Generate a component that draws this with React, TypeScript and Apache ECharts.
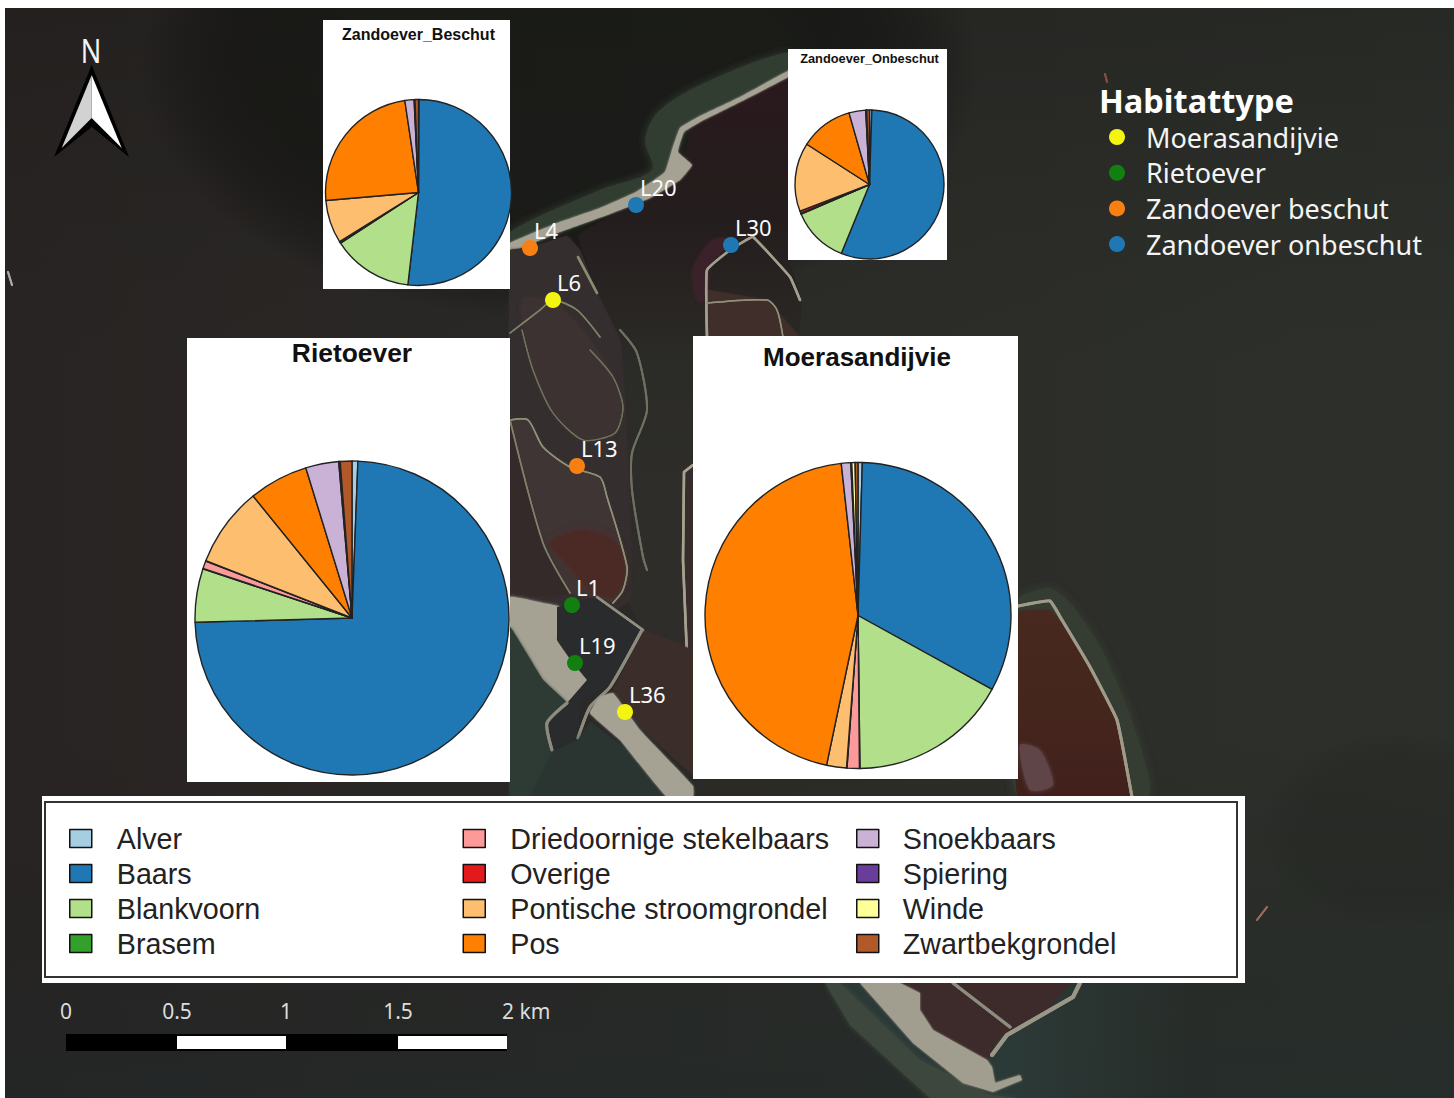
import React, { useEffect, useRef } from "react";
import * as echarts from "echarts";

const species = ["Alver", "Baars", "Blankvoorn", "Brasem", "Driedoornige stekelbaars", "Overige", "Pontische stroomgrondel", "Pos", "Snoekbaars", "Spiering", "Winde", "Zwartbekgrondel"];
const speciesColors = ["#a6cee3", "#1f78b4", "#b2df8a", "#33a02c", "#fb9a99", "#e31a1c", "#fdbf6f", "#ff7f00", "#cab2d6", "#6a3d9a", "#ffff99", "#b15928"];

const beschutValues = [0.1, 51.7, 14, 0.1, 0.1, 0.1, 7.5, 24, 1.6, 0.1, 0.05, 0.6];
const onbeschutValues = [0.5, 55.3, 12.2, 0.1, 0.1, 0.5, 14.8, 11.4, 3.6, 0.1, 0.1, 0.6];
const rietoeverValues = [0.6, 74, 5.5, 0.05, 0.8, 0.05, 8.2, 6.1, 3.4, 0.1, 0.05, 1.2];
const moerasValues = [0.45, 32.6, 16.8, 0.05, 1.3, 0.05, 2.1, 45, 1, 0.1, 0.35, 0.3];

const habitats = ["Moerasandijvie", "Rietoever", "Zandoever beschut", "Zandoever onbeschut"];
const habitatColors = ["#f4f412", "#118011", "#f88012", "#1f78b4"];
const moerasSites = [["L6", 553, 300], ["L36", 625, 712]];
const rietSites = [["L1", 572, 605], ["L19", 575, 663]];
const beschutSites = [["L4", 530, 248], ["L13", 577, 466]];
const onbeschutSites = [["L20", 636, 205], ["L30", 731, 245]];
const habitatSites = [moerasSites, rietSites, beschutSites, onbeschutSites];

const scaleLabels = ["0", "0.5", "1", "1.5", "2 km"];

type Pts = number[][];
const poly = (points: Pts, fill: any, smooth = 0.25, blur = 4) => ({
  type: "polygon", silent: true, shape: { points, smooth },
  style: typeof fill === "string" && blur > 0 ? { fill, shadowBlur: blur, shadowColor: fill } : { fill },
});
const line = (points: Pts, stroke: string, lineWidth = 1.5, smooth = 0.25) => ({
  type: "polyline", silent: true, shape: { points, smooth },
  style: { stroke, lineWidth, fill: null, lineCap: "round", lineJoin: "round", shadowBlur: 1.5, shadowColor: stroke },
});
const box = (x: number, y: number, width: number, height: number, fill: any = "#fff", extra: any = {}) => ({
  type: "rect", silent: true, shape: { x, y, width, height }, style: { fill, ...extra },
});
const linear = (x0: number, y0: number, x1: number, y1: number, stops: string[]) =>
  new echarts.graphic.LinearGradient(x0, y0, x1, y1, stops.map((color, i) => ({ offset: i / (stops.length - 1), color })));
const radial = (color: string) =>
  new echarts.graphic.RadialGradient(0.5, 0.5, 0.5, [
    { offset: 0, color },
    { offset: 0.55, color },
    { offset: 1, color: "rgba(0,0,0,0)" },
  ]);

const SAND = "#a5a294";

const mapElements: any[] = [
  box(5, 8, 1449, 1090, linear(0, 0, 1, 0, ["#282423", "#2a2826", "#2c2d29", "#2c302b"])),
  box(5, 8, 1449, 1090, linear(0, 0, 0, 1, ["rgba(20,20,18,0.25)", "rgba(30,30,28,0)", "rgba(30,30,28,0)", "rgba(28,42,42,0.4)"])),
  // dark North Sea above the spit
  { type: "ellipse", silent: true, shape: { cx: 560, cy: 70, rx: 420, ry: 250 }, style: { fill: radial("rgba(24,26,22,0.85)") } },
  { type: "ellipse", silent: true, shape: { cx: 1400, cy: 830, rx: 140, ry: 100 }, style: { fill: radial("rgba(26,26,24,0.18)") } },
  // halo of shallows along the spit
  poly([[790, 52], [700, 85], [658, 112], [645, 140], [652, 170], [600, 190], [510, 232], [510, 250], [600, 212], [670, 178], [685, 130], [790, 75]], "#333c31", 0.3, 8),
  // bay and channel
  poly([[693, 120], [790, 76], [790, 262], [802, 300], [798, 340], [693, 340], [693, 650], [643, 630], [628, 600], [627, 540], [620, 420], [600, 335], [597, 290], [578, 235], [640, 200], [680, 175]], linear(0, 0, 0, 1, ["#2a191c", "#241d1d", "#2b2b27", "#2e2d29", "#2e2d2a"]), 0.05, 0),
  // spit sand
  poly([[510, 243], [560, 222], [600, 208], [636, 192], [665, 172], [672, 150], [680, 128], [700, 116], [740, 97], [790, 70], [790, 76], [740, 102], [700, 122], [684, 132], [678, 152], [692, 165], [680, 180], [650, 198], [610, 214], [560, 232], [510, 252]], SAND, 0.1, 2),
  // western land
  poly([[510, 250], [530, 248], [567, 236], [580, 250], [597, 293], [620, 340], [625, 400], [632, 560], [630, 600], [600, 620], [510, 600]], "#362d2f", 0.05, 2),
  // marsh lobes
  poly([[522, 300], [553, 302], [590, 340], [613, 377], [623, 407], [615, 433], [583, 440], [553, 413], [533, 370]], "#3e3230"),
  poly([[510, 420], [528, 420], [543, 447], [570, 467], [600, 477], [607, 497], [627, 567], [623, 590], [613, 603], [597, 597], [570, 593], [543, 543]], "#403436", 0.1),
  poly([[550, 543], [583, 530], [617, 543], [625, 577], [613, 597], [593, 593], [570, 567]], "#4b2c27", 0.25, 8),
  poly([[510, 425], [543, 543], [570, 593], [550, 597], [510, 593]], "#36292a", 0, 2),
  // roads and dikes
  line([[510, 333], [540, 310], [553, 300], [577, 310], [600, 337]], "#7f8168"),
  line([[522, 330], [533, 370], [553, 413], [583, 440], [615, 433], [623, 407], [613, 377], [590, 350]], "#70715c", 1.2),
  line([[510, 420], [528, 420], [543, 447], [570, 467], [600, 477], [607, 497], [627, 567], [623, 590], [613, 603]], "#8f9078", 1.5),
  line([[510, 420], [543, 543], [570, 593]], "#7f8168", 1.5),
  line([[578, 257], [597, 293]], "#8a8a70", 2.5),
  line([[620, 330], [637, 353], [647, 410], [632, 453], [632, 490], [643, 557], [647, 570]], "#6f6f62", 2),
  // eastern peninsula
  poly([[693, 465], [683, 470], [683, 650], [693, 770]], "#352c2b", 0, 0),
  line([[693, 465], [684, 472], [683, 560], [688, 680], [693, 735]], "#a5a28f", 2.5, 0),
  poly([[613, 690], [643, 630], [693, 650], [693, 775], [640, 727]], "#3b2e2c", 0, 2),
  // harbour and sand
  poly([[510, 597], [543, 603], [560, 607], [557, 640], [573, 663], [587, 680], [567, 703], [543, 680], [510, 627]], SAND, 0.1, 3),
  poly([[510, 627], [543, 680], [567, 703], [552, 742], [552, 797], [510, 797]], "#2f3b34", 0.05, 3),
  poly([[557, 607], [597, 597], [643, 630], [620, 677], [580, 703], [578, 738], [552, 750], [547, 723], [567, 703], [587, 680], [573, 663], [557, 640]], "#2a2b2d", 0, 0),
  line([[597, 597], [643, 630]], "#8f9080", 2.5, 0),
  line([[567, 703], [547, 723], [552, 750]], "#8c8b7d", 3, 0.2),
  line([[642, 630], [610, 687], [590, 707], [578, 738]], "#8c8b7d", 3, 0.2),
  poly([[578, 740], [590, 722], [640, 760], [693, 797], [530, 797], [552, 752]], "#2a3633", 0, 3),
  poly([[590, 713], [600, 697], [613, 693], [640, 730], [693, 786], [693, 797], [667, 797], [620, 740]], SAND, 0.1, 2),
  // L30 peninsula
  poly([[693, 270], [713, 240], [735, 240], [712, 262], [706, 300], [697, 300]], "#3a2429"),
  poly([[708, 290], [767, 300], [800, 337], [707, 337]], "#402d2a", 0, 2),
  line([[707, 337], [707, 270], [730, 250], [743, 242], [753, 237], [790, 277], [800, 300]], "#a29f8e", 2.5, 0.1),
  line([[707, 303], [767, 300], [777, 310], [783, 337]], "#8e8e7a", 1.5),
  // south-east basin
  poly([[1018, 600], [1050, 588], [1072, 605], [1102, 650], [1132, 720], [1148, 797], [1018, 797]], "#353c31", 0.2, 10),
  poly([[1018, 612], [1050, 610], [1062, 623], [1090, 667], [1117, 720], [1132, 797], [1018, 797]], linear(0, 0, 0, 1, ["#48291f", "#45261c", "#41201c"]), 0.1, 0),
  poly([[1020, 745], [1040, 750], [1053, 785], [1030, 790]], "#5e4447"),
  line([[1018, 606], [1050, 601], [1062, 620], [1090, 667], [1117, 720], [1132, 797]], "#a09a89", 3, 0.1),
  // southern tip, below the legend
  poly([[830, 983], [1190, 983], [1180, 1098], [930, 1098], [850, 1020]], linear(0, 0, 1, 0, ["#2c3a37", "#2c3a37", "rgba(44,58,55,0)"]), 0, 0),
  poly([[840, 983], [920, 1060], [990, 1095], [1020, 1098], [930, 1098], [850, 1025], [825, 983]], "#3c473e", 0, 5),
  poly([[893, 983], [1070, 983], [1047, 1010], [1000, 1037], [987, 1060], [933, 1030], [920, 1010], [920, 993]], "#3e2a2c", 0, 2),
  poly([[860, 983], [900, 983], [920, 993], [920, 1010], [933, 1030], [987, 1060], [992, 1067], [995, 1083], [1020, 1075], [1022, 1080], [993, 1092], [963, 1083], [913, 1043]], "#a19e8f", 0, 2),
  line([[1080, 983], [1073, 997], [1033, 1020], [1007, 1035], [992, 1055]], "#9a9787", 4, 0),
  line([[953, 983], [1010, 1027]], "#8e8c7f", 3, 0),
  // small details
  line([[1257, 920], [1267, 907]], "#9a6a5c", 2, 0),
  line([[8, 272], [12, 285]], "#aaa", 2, 0),
  line([[1105, 74], [1107, 82]], "#8a4a44", 2, 0),
  // page margin that the map does not cover
  box(0, 0, 1454, 8),
  box(0, 0, 5, 1098),
];

const panelElements: any[] = [
  box(323, 20, 187, 269),
  box(788, 49, 159, 211),
  box(187, 338, 323, 444),
  box(693, 336, 325, 443),
  box(42, 796, 1203, 187),
  box(45, 802, 1192, 175, "none", { stroke: "#333", lineWidth: 2 }),
];

const arrowElements: any[] = [
  poly([[91.7, 65], [129, 157], [91.7, 127], [54, 157]], "#000", 0, 0),
  poly([[91.7, 75], [91.7, 118], [61.7, 148]], "#d2d2d2", 0, 0),
  poly([[91.7, 75], [121.7, 148], [91.7, 118]], "#ffffff", 0, 0),
  {
    type: "text", silent: true, x: 91, y: 50, scaleX: 0.82,
    style: { text: "N", fill: "#f4f4f4", font: '33px "Noto Sans"', align: "center", verticalAlign: "middle" },
  },
];

const scaleTickX = [66, 177, 286, 398, 507];
const scaleElements: any[] = [
  box(66, 1034, 441, 17, "#000"),
  box(177, 1036, 109, 13),
  box(398, 1036, 109, 13),
  ...scaleLabels.map((text, i) => ({
    type: "text", silent: true, x: i === 4 ? 502 : scaleTickX[i], y: 1011,
    style: { text, fill: "#dcdcdc", font: '21px "Noto Sans"', align: i === 4 ? "left" : "center", verticalAlign: "middle" },
  })),
];

const pieData = (values: number[]) =>
  species.map((name, i) => ({ name, value: values[i], itemStyle: { color: speciesColors[i] } }));

const pieSeries = (name: string, values: number[], center: number[], radius: number) => ({
  type: "pie",
  name,
  silent: true,
  center,
  radius,
  startAngle: 90,
  clockwise: true,
  minAngle: 0,
  avoidLabelOverlap: false,
  label: { show: false },
  labelLine: { show: false },
  emphasis: { disabled: true },
  itemStyle: { borderColor: "#222", borderWidth: 1.4 },
  data: pieData(values),
});

const pieTitle = (text: string, x: number, y: number, size: number) => ({
  text,
  left: x,
  top: y,
  textAlign: "center",
  padding: 0,
  textStyle: { fontFamily: '"Liberation Sans"', fontWeight: "bold", fontSize: size, color: "#111" },
});

const fishLegend = (names: string[], left: number, gap: number) => ({
  orient: "vertical",
  left,
  top: 824,
  padding: 0,
  data: names,
  icon: "rect",
  itemWidth: 22,
  itemHeight: 18,
  itemGap: 6,
  selectedMode: false,
  itemStyle: { borderColor: "#111", borderWidth: 1.5 },
  textStyle: { fontFamily: '"Liberation Sans"', fontSize: 28.7, color: "#222", padding: [0, 0, 0, gap], lineHeight: 28 },
});

export default function App() {
  const ref = useRef<HTMLDivElement>(null);
  useEffect(() => {
    const chart = echarts.init(ref.current!, undefined, { renderer: "svg" });
    chart.setOption({
      animation: false,
      backgroundColor: "#fff",
      grid: { left: 0, top: 0, right: 0, bottom: 0 },
      xAxis: { type: "value", min: 0, max: 1454, show: false },
      yAxis: { type: "value", min: 0, max: 1098, inverse: true, show: false },
      title: [
        pieTitle("Zandoever_Beschut", 418.5, 26, 16),
        pieTitle("Zandoever_Onbeschut", 869.5, 52, 12.8),
        pieTitle("Rietoever", 352, 340, 26.4),
        pieTitle("Moerasandijvie", 857, 344, 26),
        {
          text: "Habitattype", left: 1099, top: 84, padding: 0,
          textStyle: { fontFamily: '"Noto Sans"', fontWeight: "bold", fontSize: 32.5, color: "#fff" },
        },
      ],
      legend: [
        fishLegend(species.slice(0, 4), 69, 20),
        fishLegend(species.slice(4, 8), 462.5, 20),
        fishLegend(species.slice(8, 12), 856, 19),
        {
          orient: "vertical",
          left: 1109,
          top: 123,
          padding: 0,
          data: habitats,
          icon: "circle",
          itemWidth: 16,
          itemHeight: 16,
          itemGap: 7.7,
          selectedMode: false,
          textStyle: { fontFamily: '"Noto Sans"', fontSize: 27, color: "#f4f4f4", padding: [0, 0, 0, 16], lineHeight: 28 },
        },
      ],
      graphic: { elements: [...mapElements, ...panelElements, ...arrowElements, ...scaleElements] },
      series: [
        pieSeries("Zandoever_Beschut pie", beschutValues, [418.5, 192.5], 93),
        pieSeries("Zandoever_Onbeschut pie", onbeschutValues, [869.5, 184.5], 74.5),
        pieSeries("Rietoever pie", rietoeverValues, [352, 618], 157),
        pieSeries("Moerasandijvie pie", moerasValues, [858, 615.5], 153),
        ...habitats.map((name, i) => ({
          type: "scatter",
          name,
          silent: true,
          symbolSize: 16,
          itemStyle: { color: habitatColors[i], opacity: 1 },
          label: {
            show: true,
            position: "right",
            distance: -4,
            offset: [0, -18],
            formatter: (p: any) => p.data[2],
            fontFamily: '"Noto Sans"',
            fontSize: 22,
            color: "#fafafa",
          },
          data: habitatSites[i].map((s) => [s[1], s[2], s[0]]),
        })),
      ],
    });
    return () => chart.dispose();
  }, []);
  return <div ref={ref} style={{ position: "fixed", left: 0, top: 0, width: 1454, height: 1098 }} />;
}
